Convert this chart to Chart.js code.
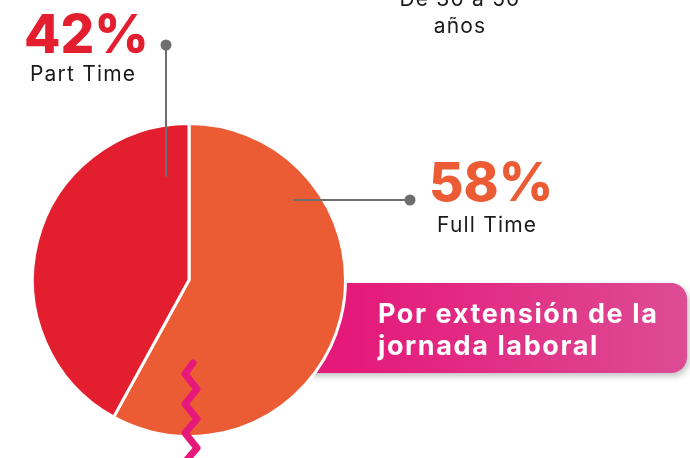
<!DOCTYPE html>
<html>
<head>
<meta charset="utf-8">
<script src="https://cdn.jsdelivr.net/npm/chart.js@4/dist/chart.umd.min.js"></script>
<style>
  html, body { margin: 0; padding: 0; background: #fff; }
  #wrap { width: 690px; height: 458px; position: relative; }
</style>
</head>
<body>
<div id="wrap"><canvas id="pieChart" width="690" height="458"></canvas></div>
<script>
const categories = ["Full Time", "Part Time"];
const shares = [58, 42];
const sliceColors = ["#EB5C34", "#E31F2F"];
const groupTitle = ["De 30 a 50", "años"];
const bannerLines = ["Por extensión de la", "jornada laboral"];

// decorations: banner behind the pie, zigzag + labels on top
const decor = {
  id: "decor",
  beforeDatasetsDraw(chart) {
    const c = chart.ctx;
    c.save();
    c.shadowColor = "rgba(0,0,0,0.25)";
    c.shadowBlur = 6;
    c.shadowOffsetX = 2;
    c.shadowOffsetY = 3;
    const g = c.createLinearGradient(348, 0, 688, 0);
    g.addColorStop(0, "#E5197A");
    g.addColorStop(1, "#DD4C94");
    c.fillStyle = g;
    c.beginPath();
    c.roundRect(300, 283, 387, 90, 16);
    c.fill();
    c.restore();

    c.save();
    c.fillStyle = "#fff";
    c.font = "bold 27px Inter, 'Open Sans', sans-serif";
    c.letterSpacing = "1.6px";
    c.textBaseline = "alphabetic";
    c.fillText(bannerLines[0], 378, 323);
    c.fillText(bannerLines[1], 378, 355);
    c.restore();
  },
  afterDatasetsDraw(chart) {
    const c = chart.ctx;
    c.save();
    // zigzag
    c.strokeStyle = "#E6197A";
    c.lineWidth = 7;
    c.lineCap = "round";
    c.lineJoin = "round";
    const zz = [[193,363],[185,374],[197,389],[185,404],[197,419],[185,433],[197,448],[185,462]];
    c.beginPath();
    zz.forEach((p, i) => i ? c.lineTo(p[0], p[1]) : c.moveTo(p[0], p[1]));
    c.stroke();

    // leader lines
    c.strokeStyle = "#6E6E6E";
    c.fillStyle = "#6E6E6E";
    c.lineWidth = 2;
    c.beginPath();
    c.moveTo(166, 45); c.lineTo(166, 176);
    c.moveTo(294, 200); c.lineTo(410, 200);
    c.stroke();
    c.beginPath(); c.arc(166, 45, 5.5, 0, Math.PI * 2); c.fill();
    c.beginPath(); c.arc(410, 200, 5.5, 0, Math.PI * 2); c.fill();

    // value labels
    c.textBaseline = "alphabetic";
    c.textAlign = "left";
    c.font = "800 53px Inter, 'Open Sans', sans-serif";
    c.fillStyle = sliceColors[1];
    c.fillText(shares[1] + "%", 24, 53);
    c.fillStyle = sliceColors[0];
    c.fillText(shares[0] + "%", 429, 201);

    c.fillStyle = "#1a1a1a";
    c.font = "21px Inter, 'Open Sans', sans-serif";
    c.letterSpacing = "1.2px";
    c.fillText(categories[1], 30, 81);
    c.fillText(categories[0], 437, 232);

    c.textAlign = "center";
    c.fillText(groupTitle[0], 460, 6);
    c.fillText(groupTitle[1], 460, 33);
    c.restore();
  }
};

new Chart(document.getElementById("pieChart"), {
  type: "pie",
  data: {
    labels: categories,
    datasets: [{
      data: shares,
      backgroundColor: sliceColors,
      borderColor: "#ffffff",
      borderWidth: 3
    }]
  },
  options: {
    responsive: false,
    animation: false,
    layout: { padding: { left: 31, right: 343, top: 122, bottom: 20 } },
    plugins: {
      legend: { display: false },
      tooltip: { enabled: false }
    }
  },
  plugins: [decor]
});
</script>
</body>
</html>
